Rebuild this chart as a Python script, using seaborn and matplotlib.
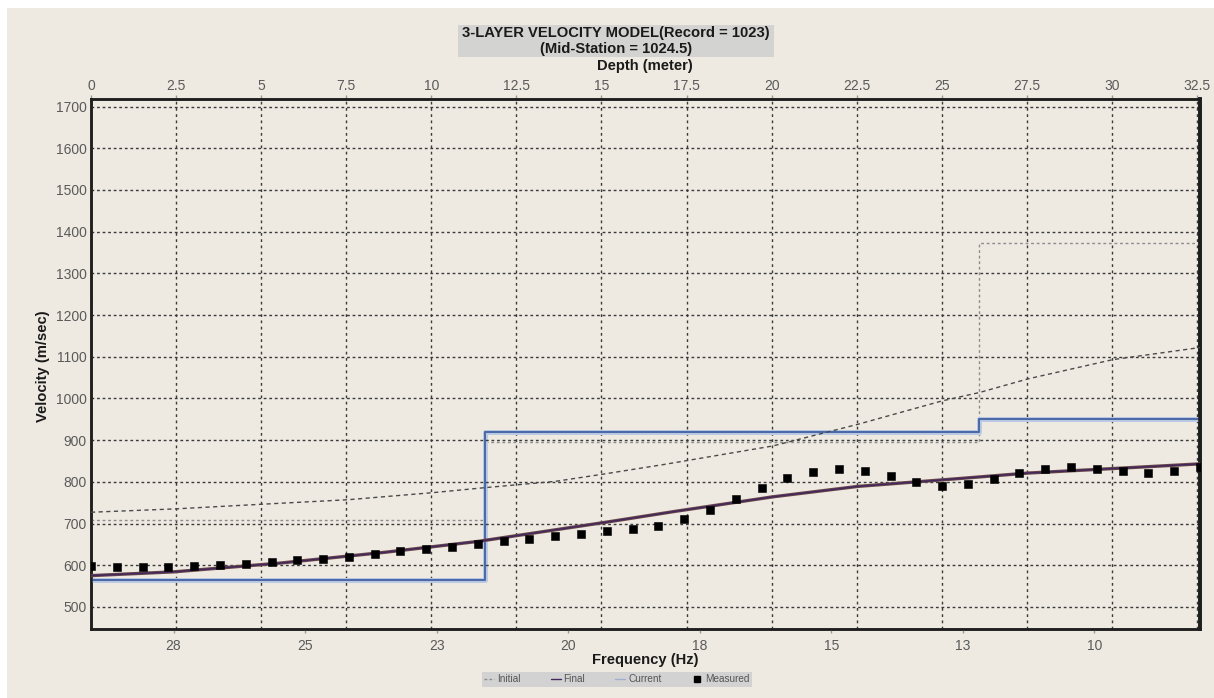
import matplotlib
matplotlib.use("Agg")
import matplotlib.pyplot as plt
from matplotlib.patches import Rectangle
from matplotlib.lines import Line2D
import pandas as pd
import seaborn as sns

# ---- measured dispersion curve (frequency in Hz, phase velocity in m/s)
meas_freq = [29.6, 29.1, 28.6, 28.1, 27.6, 27.1, 26.6, 26.1, 25.6, 25.1, 24.6,
             24.1, 23.6, 23.1, 22.6, 22.1, 21.6, 21.1, 20.6, 20.1, 19.6, 19.1,
             18.6, 18.1, 17.6, 17.1, 16.6, 16.1, 15.6, 15.1, 14.6, 14.1, 13.6,
             13.1, 12.6, 12.1, 11.6, 11.1, 10.6, 10.1, 9.6, 9.1, 8.6, 8.1]
meas_vel = [597, 596, 596, 596, 597, 600, 603, 608, 612, 616, 620, 627,
            633, 638, 643, 650, 657, 662, 669, 675, 681, 687, 695,
            711, 732, 758, 786, 808, 823, 831, 827, 814, 800, 791,
            794, 807, 822, 831, 836, 831, 825, 822, 825, 835]

# ---- theoretical curves
curve_freq = [29.6, 28.0, 25.94, 23.9, 22.1, 19.62, 18.28, 16.38, 14.73,
              12.85, 11.43, 9.75, 8.1]
curve_vel = [575, 584, 605, 631, 657, 703, 729, 764, 789, 807, 821, 832, 843]

init_freq = [29.6, 27.97, 26.32, 24.62, 22.97, 21.96, 20.6, 19.69, 18.47,
             16.38, 14.73, 13.1, 12.38, 11.43, 9.79, 8.1]
init_vel = [727, 735, 746, 757, 774, 786, 801, 818, 842, 886, 938, 994,
            1014, 1047, 1093, 1122]

# ---- layered velocity models (depth of layer tops in m)
layer_depth = [0, 11.57, 26.1, 32.59]
final_model = [565, 920, 950, 950]
init_model = [708, 895, 1373, 1373]

# ---- axis tick values
freq_ticks = [28.0, 25.45, 22.9, 20.35, 17.8, 15.25, 12.7, 10.15]
freq_labels = ["28", "25", "23", "20", "18", "15", "13", "10"]
depth_ticks = [0, 2.5, 5, 7.5, 10, 12.5, 15, 17.5, 20, 22.5, 25, 27.5, 30, 32.5]
depth_labels = ["0", "2.5", "5", "7.5", "10", "12.5", "15", "17.5", "20",
                "22.5", "25", "27.5", "30", "32.5"]
vel_ticks = list(range(500, 1800, 100))

sns.set_style("white")
plt.rcParams["font.family"] = ["Liberation Sans", "DejaVu Sans"]

BG = "#EEEAE1"
TICK_C = "#5a5a5a"
GRID_C = "#3a3a3a"

W, H = 1214, 698
fig = plt.figure(figsize=(W / 100, H / 100), dpi=100, facecolor="white")
fig.add_artist(Rectangle((7 / W, 0), 1 - 7 / W, 1 - 8 / H,
                         transform=fig.transFigure, facecolor=BG,
                         edgecolor="none", zorder=-10))

L, R, T, B = 91, 1200, 99, 629
ax = fig.add_axes([L / W, 1 - B / H, (R - L) / W, (B - T) / H])
top = ax.twiny()
ax.set_zorder(2)
top.set_zorder(1)
ax.patch.set_visible(False)
top.patch.set_visible(True)
top.patch.set_facecolor(BG)

# depth-domain models on the top axis
model_df = pd.DataFrame({"depth": layer_depth, "initial": init_model,
                         "final": final_model})
sns.lineplot(data=model_df, x="depth", y="initial", ax=top, color="#8c8c8c",
             lw=1.0, linestyle=(0, (2, 2)), drawstyle="steps-post",
             estimator=None, zorder=3)
sns.lineplot(data=model_df, x="depth", y="final", ax=top, color="#bccbe4",
             lw=3.6, drawstyle="steps-post", estimator=None, zorder=4)
sns.lineplot(data=model_df, x="depth", y="final", ax=top, color="#4d6aa8",
             lw=1.5, drawstyle="steps-post", estimator=None, zorder=5)

# frequency-domain curves on the bottom axis
init_df = pd.DataFrame({"f": init_freq, "v": init_vel})
curve_df = pd.DataFrame({"f": curve_freq, "v": curve_vel})
meas_df = pd.DataFrame({"f": meas_freq, "v": meas_vel})
sns.lineplot(data=init_df, x="f", y="v", ax=ax, color="#4a4a4a", lw=1.0,
             linestyle=(0, (3, 2.5)), estimator=None, sort=False, zorder=3)
sns.lineplot(data=curve_df, x="f", y="v", ax=ax, color="#6a4848", lw=2.4,
             estimator=None, sort=False, zorder=4)
sns.lineplot(data=curve_df, x="f", y="v", ax=ax, color="#43285e", lw=1.1,
             estimator=None, sort=False, zorder=5)
sns.scatterplot(data=meas_df, x="f", y="v", ax=ax, marker="s", s=26,
                color="black", edgecolor="black", linewidth=0.4, zorder=6)

# limits and ticks
ax.set_xlim(29.6, 8.1)
ax.set_ylim(447, 1718)
top.set_xlim(0, 32.59)
ax.set_xticks(freq_ticks)
ax.set_xticklabels(freq_labels)
ax.set_yticks(vel_ticks)
ax.set_yticklabels([str(v) for v in vel_ticks])
top.set_xticks(depth_ticks)
top.set_xticklabels(depth_labels)

ax.tick_params(axis="x", which="major", direction="out", length=3, width=1,
               color="#999999", pad=4, labelsize=10, labelcolor=TICK_C)
ax.tick_params(axis="y", which="major", direction="out", length=2, width=1,
               color="#999999", pad=1, labelsize=10, labelcolor=TICK_C)
top.tick_params(axis="x", which="major", direction="out", length=3, width=1,
                color="#999999", pad=1.5, labelsize=10, labelcolor=TICK_C)

ax.set_xlabel("")
ax.set_ylabel("")
top.set_xlabel("")
top.set_ylabel("")

# dotted grid: horizontal from velocity ticks, vertical from depth ticks
ax.grid(False)
ax.yaxis.grid(True, color=GRID_C, linestyle=(0, (2, 2)), linewidth=1.0)
ax.xaxis.grid(False)
top.xaxis.grid(True, color=GRID_C, linestyle=(0, (2, 2.5)), linewidth=1.0)
top.yaxis.grid(False)
top.set_axisbelow(True)

for a in (ax, top):
    for side, sp in a.spines.items():
        sp.set_color("#1e1e1e")
        sp.set_linewidth(1.8)
ax.spines["right"].set_linewidth(2.6)
top.spines["right"].set_linewidth(2.6)

# title block
fig.add_artist(Rectangle((458 / W, 1 - 57 / H), (774 - 458) / W, 32 / H,
                         transform=fig.transFigure, facecolor="#D3D3D1",
                         edgecolor="none", zorder=1))
fig.text(616 / W, 1 - 33 / H, "3-LAYER VELOCITY MODEL(Record = 1023)",
         ha="center", va="center", fontsize=10.6, fontweight="bold",
         color="#1a1a1a", zorder=2)
fig.text(616 / W, 1 - 49.5 / H, "(Mid-Station = 1024.5)",
         ha="center", va="center", fontsize=10.6, fontweight="bold",
         color="#1a1a1a", zorder=2)

fig.text(645 / W, 1 - 66 / H, "Depth (meter)", ha="center", va="center",
         fontsize=10.6, fontweight="bold", color="#1a1a1a")
fig.text(645 / W, 1 - 660 / H, "Frequency (Hz)", ha="center", va="center",
         fontsize=10.6, fontweight="bold", color="#1a1a1a")
fig.text(43 / W, 1 - 366 / H, "Velocity (m/sec)", ha="center", va="center",
         rotation=90, fontsize=10.6, fontweight="bold", color="#1a1a1a")

# legend
handles = [
    Line2D([], [], color="#8c8c8c", lw=1.0, linestyle=(0, (2, 1.5))),
    Line2D([], [], color="#43285e", lw=1.0),
    Line2D([], [], color="#9fb0cf", lw=1.0),
    Line2D([], [], color="black", lw=0, marker="s", markersize=4),
]
leg = fig.legend(handles, ["Initial", "Final", "Current", "Measured"],
                 loc="center", bbox_to_anchor=(616.5 / W, 1 - 679 / H),
                 ncol=4, fontsize=7.2, frameon=True, fancybox=False,
                 facecolor="#D2D2D2", edgecolor="none", framealpha=1,
                 handlelength=1.0, handletextpad=0.3, columnspacing=3.0,
                 borderpad=0.25, borderaxespad=0)
for t in leg.get_texts():
    t.set_color("#555555")

fig.savefig("out.png", dpi=100, facecolor=fig.get_facecolor())
